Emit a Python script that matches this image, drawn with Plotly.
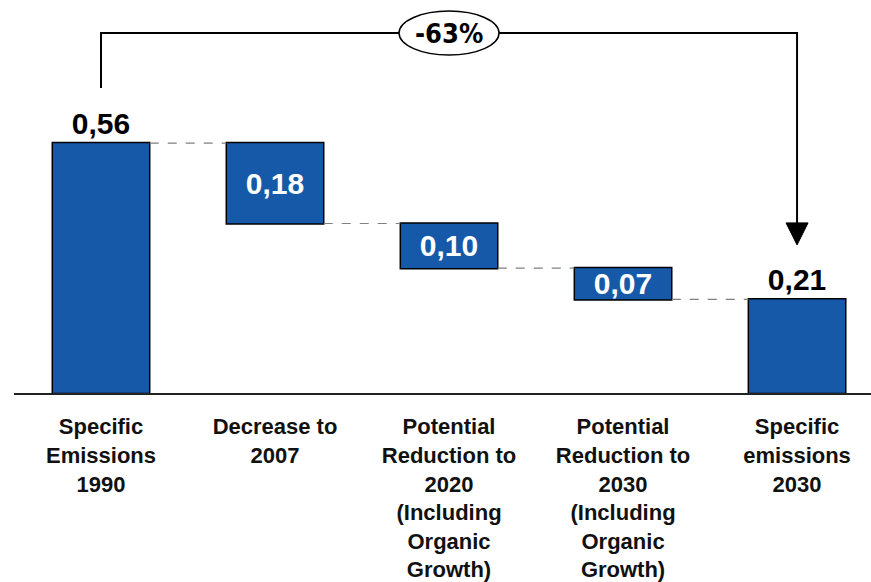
import plotly.graph_objects as go

# ---- data ----
categories = [
    "Specific<br>Emissions<br>1990",
    "Decrease to<br>2007",
    "Potential<br>Reduction to<br>2020<br>(Including<br>Organic<br>Growth)",
    "Potential<br>Reduction to<br>2030<br>(Including<br>Organic<br>Growth)",
    "Specific<br>emissions<br>2030",
]
measures = ["absolute", "relative", "relative", "relative", "total"]
values = [0.56, -0.18, -0.10, -0.07, 0.0]
change_label = "-63%"

# ---- derived ----
x = list(range(len(categories)))
start = values[0]
end = round(sum(values[:4]), 2)


def fmt(v):
    return f"{abs(v):.2f}".replace(".", ",")


labels = [fmt(v) for v in values[:4]] + [fmt(end)]
textpos = ["outside", "inside", "inside", "inside", "outside"]

BLUE = "#1659A8"
FONT = "Liberation Sans, Arial, sans-serif"
bar_style = dict(marker=dict(color=BLUE, line=dict(color="black", width=1.5)))

fig = go.Figure()
fig.add_trace(go.Waterfall(
    x=x, y=values, measure=measures,
    text=labels, textposition=textpos,
    constraintext="none", textangle=0, cliponaxis=False,
    insidetextfont=dict(color="white", size=30, family=FONT, weight="bold"),
    outsidetextfont=dict(color="black", size=30, family=FONT, weight="bold"),
    insidetextanchor="middle",
    increasing=bar_style, decreasing=bar_style, totals=bar_style,
    connector=dict(line=dict(color="#808080", width=1.2, dash="dash")),
    width=0.56, hoverinfo="skip", showlegend=False,
))

BRACKET_Y = 0.807
left_bottom = start + 0.124
arrow_tip = end + 0.122

shapes = [
    dict(type="path", xref="x", yref="y",
         path=f"M {x[0]},{left_bottom} V {BRACKET_Y} H {x[-1]} V {arrow_tip + 0.02}",
         line=dict(color="black", width=2)),
    dict(type="path", xref="x", yref="y", xsizemode="pixel", ysizemode="pixel",
         xanchor=x[-1], yanchor=arrow_tip,
         path="M -11,22 L 11,22 L 0,0 Z",
         fillcolor="black", line=dict(color="black", width=1)),
    dict(type="circle", xref="x", yref="y", xsizemode="pixel", ysizemode="pixel",
         xanchor=x[2], yanchor=BRACKET_Y, x0=-50, x1=50, y0=-22, y1=22,
         fillcolor="white", line=dict(color="black", width=1.5), layer="above"),
]

fig.update_layout(
    width=871, height=582,
    margin=dict(l=14, r=0, t=0, b=189),
    paper_bgcolor="white", plot_bgcolor="white",
    shapes=shapes,
    annotations=[dict(x=x[2], y=BRACKET_Y, xref="x", yref="y", text=f"<b>{change_label}</b>",
                      showarrow=False,
                      font=dict(size=27, color="black",
                                family="DejaVu Sans Condensed, Liberation Sans Narrow, sans-serif"))],
    xaxis=dict(range=[-0.5, 4.425], tickvals=x, ticktext=[f"<b>{c}</b>" for c in categories],
               showline=True, linecolor="#222222", linewidth=2, showgrid=False, zeroline=False,
               ticks="", tickfont=dict(size=22, color="#111111", family=FONT),
               ticklabelstandoff=13, automargin=False, fixedrange=True),
    yaxis=dict(range=[0, 0.881], visible=False, showgrid=False, zeroline=False,
               automargin=False, fixedrange=True),
)

fig.write_html("out.html")
